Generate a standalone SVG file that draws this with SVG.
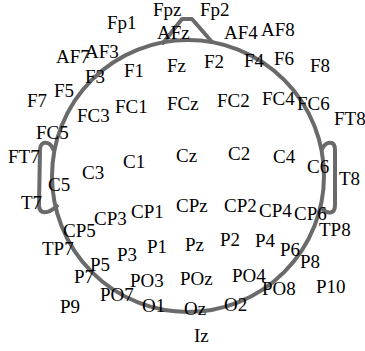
<svg xmlns="http://www.w3.org/2000/svg" width="365" height="351" viewBox="0 0 365 351">
  <style>
    .head { fill: none; stroke: #6a6a6a; stroke-width: 4; stroke-linejoin: round; stroke-linecap: round; }
    text { font-family: 'Liberation Serif', 'DejaVu Serif', 'Times New Roman', Times, serif; font-size: 19px; fill: #000; }
  </style>
  <rect width="365" height="351" fill="#fff"/>
  <!-- head outline: scalp, nose and ears -->
  <g id="head">
    <circle class="head" cx="188" cy="176" r="136"/>
    <path class="head" d="M163,43 L182,19 L192,19 L212,42"/>
    <path class="head" d="M53,149 C50,141 40,140 40,150 L39,205 C39,214 47,215 57,206"/>
    <path class="head" d="M322,149 C326,141 335,140 335,150 L335,205 C335,214 328,215 321,208"/>
  </g>
  <g id="connectors"/>
  <!-- electrode labels -->
  <g font-family="Liberation Serif, DejaVu Serif, serif" font-size="19">
  <g id="Fpz"><text x="153" y="16">Fpz</text></g>
  <g id="Fp2"><text x="200" y="16">Fp2</text></g>
  <g id="Fp1"><text x="107" y="29">Fp1</text></g>
  <g id="AFz"><text x="157" y="39">AFz</text></g>
  <g id="AF4"><text x="224" y="39">AF4</text></g>
  <g id="AF8"><text x="261" y="36">AF8</text></g>
  <g id="AF7"><text x="56" y="63">AF7</text></g>
  <g id="AF3"><text x="85" y="58">AF3</text></g>
  <g id="F3"><text x="85" y="83">F3</text></g>
  <g id="F1"><text x="124" y="77">F1</text></g>
  <g id="Fz"><text x="167" y="72">Fz</text></g>
  <g id="F2"><text x="204" y="68">F2</text></g>
  <g id="F4"><text x="244" y="67">F4</text></g>
  <g id="F6"><text x="274" y="65">F6</text></g>
  <g id="F8"><text x="310" y="72">F8</text></g>
  <g id="F7"><text x="27" y="107">F7</text></g>
  <g id="F5"><text x="54" y="97">F5</text></g>
  <g id="FC5"><text x="36" y="139">FC5</text></g>
  <g id="FC3"><text x="77" y="122">FC3</text></g>
  <g id="FC1"><text x="115" y="113">FC1</text></g>
  <g id="FCz"><text x="167" y="110">FCz</text></g>
  <g id="FC2"><text x="217" y="107">FC2</text></g>
  <g id="FC4"><text x="262" y="105">FC4</text></g>
  <g id="FC6"><text x="297" y="110">FC6</text></g>
  <g id="FT8"><text x="334" y="125">FT8</text></g>
  <g id="FT7"><text x="8" y="163">FT7</text></g>
  <g id="C5"><text x="48" y="191">C5</text></g>
  <g id="C3"><text x="82" y="179">C3</text></g>
  <g id="C1"><text x="123" y="168">C1</text></g>
  <g id="Cz"><text x="176" y="162">Cz</text></g>
  <g id="C2"><text x="228" y="160">C2</text></g>
  <g id="C4"><text x="273" y="163">C4</text></g>
  <g id="C6"><text x="307" y="173">C6</text></g>
  <g id="T8"><text x="339" y="185">T8</text></g>
  <g id="T7"><text x="21" y="209">T7</text></g>
  <g id="CP5"><text x="63" y="237">CP5</text></g>
  <g id="CP3"><text x="94" y="225">CP3</text></g>
  <g id="CP1"><text x="131" y="218">CP1</text></g>
  <g id="CPz"><text x="176" y="212">CPz</text></g>
  <g id="CP2"><text x="224" y="212">CP2</text></g>
  <g id="CP4"><text x="259" y="217">CP4</text></g>
  <g id="CP6"><text x="294" y="220">CP6</text></g>
  <g id="TP8"><text x="319" y="236">TP8</text></g>
  <g id="TP7"><text x="42" y="255">TP7</text></g>
  <g id="P7"><text x="74" y="283">P7</text></g>
  <g id="P5"><text x="90" y="271">P5</text></g>
  <g id="P3"><text x="117" y="261">P3</text></g>
  <g id="P1"><text x="147" y="253">P1</text></g>
  <g id="Pz"><text x="185" y="251">Pz</text></g>
  <g id="P2"><text x="220" y="246">P2</text></g>
  <g id="P4"><text x="255" y="247">P4</text></g>
  <g id="P6"><text x="280" y="256">P6</text></g>
  <g id="P8"><text x="300" y="268">P8</text></g>
  <g id="P10"><text x="316" y="293">P10</text></g>
  <g id="P9"><text x="60" y="313">P9</text></g>
  <g id="PO7"><text x="100" y="301">PO7</text></g>
  <g id="PO3"><text x="130" y="287">PO3</text></g>
  <g id="POz"><text x="180" y="285">POz</text></g>
  <g id="PO4"><text x="232" y="282">PO4</text></g>
  <g id="PO8"><text x="262" y="295">PO8</text></g>
  <g id="O1"><text x="142" y="312">O1</text></g>
  <g id="Oz"><text x="184" y="315">Oz</text></g>
  <g id="O2"><text x="224" y="311">O2</text></g>
  <g id="Iz"><text x="194" y="342">Iz</text></g>
  </g>
</svg>
